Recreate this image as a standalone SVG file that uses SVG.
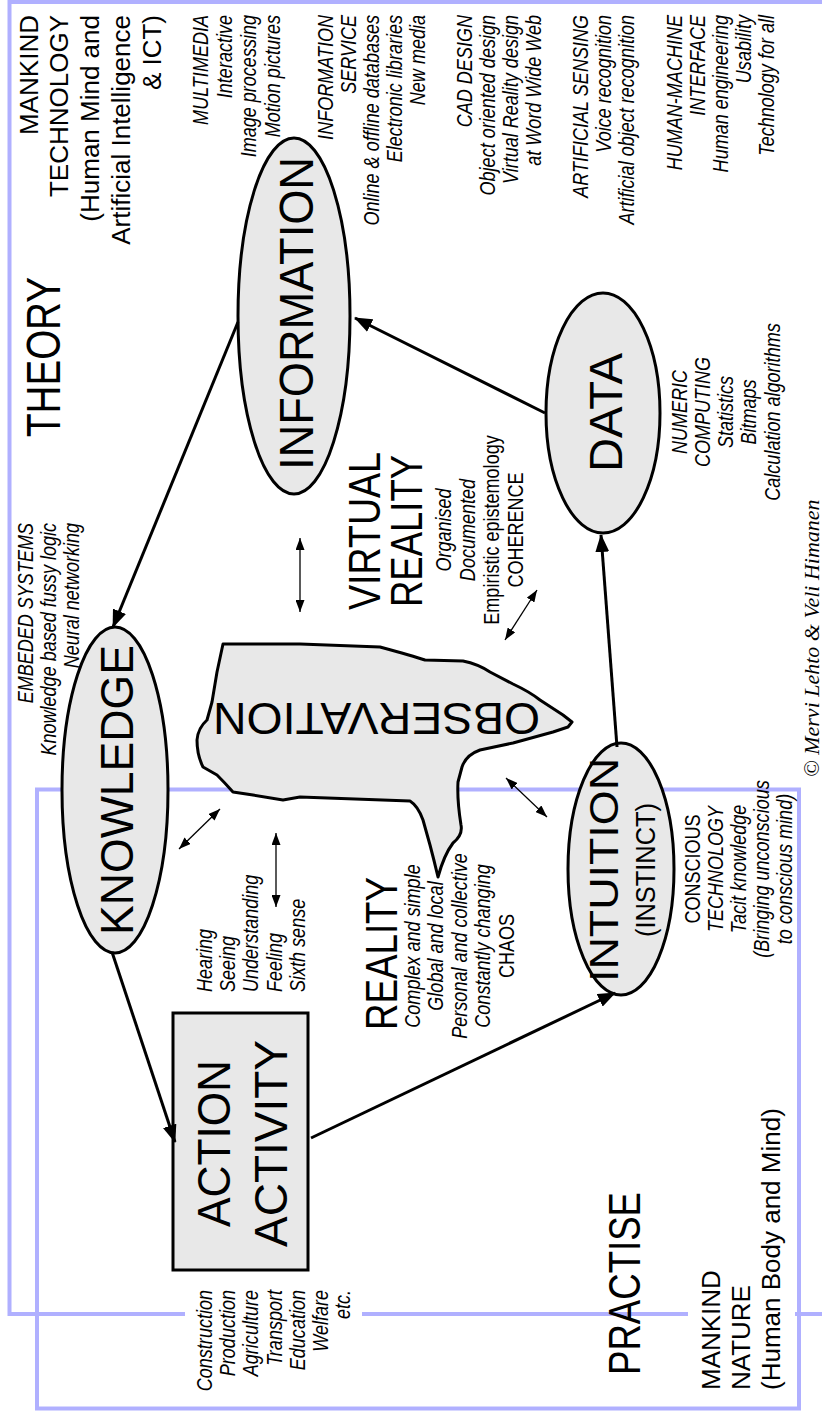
<svg xmlns="http://www.w3.org/2000/svg" width="822" height="1416" viewBox="0 0 822 1416">
<defs>
<style>
text{font-family:"Liberation Sans",Arial,Helvetica,sans-serif;fill:#000}
.it{font-style:italic}
.sm{font-size:22px}
.reg{font-size:26px}
.node{fill:#e8e8e8;stroke:#000;stroke-width:3}
.frame{fill:none;stroke:#b0b0ff;stroke-width:4}
.conn{stroke:#000;stroke-width:3;fill:none;marker-end:url(#ah)}
.dbl{stroke:#000;stroke-width:1.3;fill:none;marker-start:url(#sh);marker-end:url(#sh)}
.copy{font-family:"Liberation Serif","Times New Roman",serif;font-style:italic;font-size:22px}
</style>
<marker id="ah" markerWidth="18" markerHeight="14" refX="17" refY="7" orient="auto" markerUnits="userSpaceOnUse"><path d="M0,0 L18,7 L0,14 z" fill="#000"/></marker>
<marker id="sh" markerWidth="12" markerHeight="9" refX="12" refY="4.5" orient="auto-start-reverse" markerUnits="userSpaceOnUse"><path d="M0,0 L12,4.5 L0,9 z" fill="#000"/></marker>
</defs>
<rect width="822" height="1416" fill="#fff"/>

<g id="frames">
<path class="frame" d="M185,1314 H9.5 V2 H830 M362,1314 H688 M795,1314 H830"/>
<rect class="frame" x="37" y="789.5" width="762" height="619"/>
</g>

<g id="observation">
<path class="node" stroke-linejoin="round" d="M223,644 L300,644 L380,647 Q413,656 425,660 L463,661 Q478,664 490,672 L513,684 Q530,692 540,700 L563,715 L572,722 L568,727 L553,732 L513,743 L480,750 Q466,755 462,767 L458,782 Q457,800 461,825 Q463,835 453,843 Q444,855 438,877 Q434,860 430,845 L423,820 Q418,806 410,801 L300,797 L283,800 L253,795 L233,792 Q225,783 217,775 L203,767 Q197,755 197,740 Q198,728 207,720 L212,702 L217,672 Z"/>
<text font-size="45" textLength="327" lengthAdjust="spacingAndGlyphs" transform="translate(540,703) rotate(180)">OBSERVATION</text>
</g>

<g id="knowledge">
<ellipse class="node" cx="115" cy="790" rx="53" ry="163"/>
<text font-size="46" textLength="290" lengthAdjust="spacingAndGlyphs" transform="translate(133,935) rotate(-90)">KNOWLEDGE</text>
</g>

<g id="information">
<ellipse class="node" cx="294" cy="316" rx="56" ry="178"/>
<text font-size="49" textLength="313" lengthAdjust="spacingAndGlyphs" transform="translate(313,470) rotate(-90)">INFORMATION</text>
</g>

<g id="data">
<ellipse class="node" cx="603" cy="413" rx="57" ry="120"/>
<text font-size="47" textLength="119" lengthAdjust="spacingAndGlyphs" transform="translate(622,472) rotate(-90)">DATA</text>
</g>

<g id="intuition">
<ellipse class="node" cx="621" cy="869" rx="53" ry="126"/>
<text font-size="40" textLength="224" lengthAdjust="spacingAndGlyphs" transform="translate(618,982) rotate(-90)">INTUITION</text>
<text font-size="27" textLength="134" lengthAdjust="spacingAndGlyphs" transform="translate(655,937) rotate(-90)">(INSTINCT)</text>
</g>

<g id="action">
<rect class="node" x="173" y="1013" width="135" height="257"/>
<text font-size="46" textLength="167" lengthAdjust="spacingAndGlyphs" transform="translate(230,1227) rotate(-90)">ACTION</text>
<text font-size="46" textLength="207" lengthAdjust="spacingAndGlyphs" transform="translate(287,1247) rotate(-90)">ACTIVITY</text>
</g>

<g id="connectors">
<path class="conn" d="M238,322 L113,627"/>
<path class="conn" d="M112,952 L175,1142"/>
<path class="conn" d="M311,1138 L615,993"/>
<path class="conn" d="M617,747 L601,535"/>
<path class="conn" d="M545,413 L355,318"/>
<path class="dbl" d="M300,538 L300,612"/>
<path class="dbl" d="M537,590 L505,640"/>
<path class="dbl" d="M220,809 L179,849"/>
<path class="dbl" d="M276,833 L276,907"/>
<path class="dbl" d="M506,778 L547,817"/>
</g>

<g id="labels">
<text font-size="48" textLength="160" lengthAdjust="spacingAndGlyphs" transform="translate(60,437) rotate(-90)">THEORY</text>
<text font-size="45" textLength="183" lengthAdjust="spacingAndGlyphs" transform="translate(640,1375) rotate(-90)">PRACTISE</text>
<text font-size="44" textLength="158" lengthAdjust="spacingAndGlyphs" transform="translate(380,610) rotate(-90)">VIRTUAL</text>
<text font-size="44" textLength="152" lengthAdjust="spacingAndGlyphs" transform="translate(422,607) rotate(-90)">REALITY</text>
<text font-size="44" textLength="153" lengthAdjust="spacingAndGlyphs" transform="translate(397,1030) rotate(-90)">REALITY</text>

<text class="reg" text-anchor="end" transform="translate(38,15) rotate(-90)"><tspan x="0" y="0">MANKIND</tspan><tspan x="0" y="30">TECHNOLOGY</tspan><tspan x="0" y="61">(Human Mind and</tspan><tspan x="0" y="92">Artificial Intelligence</tspan><tspan x="0" y="123">&amp; ICT)</tspan></text>

<text class="reg" transform="translate(720,1390) rotate(-90)"><tspan x="0" y="0">MANKIND</tspan><tspan x="0" y="30">NATURE</tspan><tspan x="0" y="60">(Human Body and Mind)</tspan></text>

<text class="sm it" text-anchor="end" transform="translate(208,15) rotate(-90) scale(0.82,1)"><tspan x="0" y="0">MULTIMEDIA</tspan><tspan x="0" y="24">Interactive</tspan><tspan x="0" y="48">Image processing</tspan><tspan x="0" y="72">Motion pictures</tspan></text>

<text class="sm it" text-anchor="end" transform="translate(333,15) rotate(-90) scale(0.82,1)"><tspan x="0" y="0">INFORMATION</tspan><tspan x="0" y="23">SERVICE</tspan><tspan x="0" y="46">Online &amp; offline databases</tspan><tspan x="0" y="69">Electronic libraries</tspan><tspan x="0" y="92">New media</tspan></text>

<text class="sm it" text-anchor="end" transform="translate(472,15) rotate(-90) scale(0.82,1)"><tspan x="0" y="0">CAD DESIGN</tspan><tspan x="0" y="23">Object oriented design</tspan><tspan x="0" y="46">Virtual Reality design</tspan><tspan x="0" y="69">at Word Wide Web</tspan></text>

<text class="sm it" text-anchor="end" transform="translate(588,15) rotate(-90) scale(0.82,1)"><tspan x="0" y="0">ARTIFICIAL SENSING</tspan><tspan x="0" y="23">Voice recognition</tspan><tspan x="0" y="46">Artificial object recognition</tspan></text>

<text class="sm it" text-anchor="end" transform="translate(682,15) rotate(-90) scale(0.82,1)"><tspan x="0" y="0">HUMAN-MACHINE</tspan><tspan x="0" y="23">INTERFACE</tspan><tspan x="0" y="46">Human engineering</tspan><tspan x="0" y="69">Usability</tspan><tspan x="0" y="92">Technology for all</tspan></text>

<text class="sm it" text-anchor="end" transform="translate(33,523) rotate(-90) scale(0.82,1)"><tspan x="0" y="0">EMBEDED SYSTEMS</tspan><tspan x="0" y="23">Knowledge based fussy logic</tspan><tspan x="0" y="46">Neural networking</tspan></text>

<text class="sm" text-anchor="middle" transform="translate(451,530) rotate(-90) scale(0.82,1)"><tspan class="it" x="0" y="0">Organised</tspan><tspan class="it" x="0" y="24">Documented</tspan><tspan x="0" y="48">Empiristic epistemology</tspan><tspan x="0" y="72">COHERENCE</tspan></text>

<text class="sm" text-anchor="middle" transform="translate(420,946) rotate(-90) scale(0.82,1)"><tspan class="it" x="0" y="0">Complex and simple</tspan><tspan class="it" x="0" y="23.5">Global and local</tspan><tspan class="it" x="0" y="47">Personal and collective</tspan><tspan class="it" x="0" y="70.5">Constantly changing</tspan><tspan x="0" y="94">CHAOS</tspan></text>

<text class="sm it" transform="translate(212,992) rotate(-90) scale(0.82,1)"><tspan x="0" y="0">Hearing</tspan><tspan x="0" y="23">Seeing</tspan><tspan x="0" y="46">Understanding</tspan><tspan x="0" y="70">Feeling</tspan><tspan x="0" y="93">Sixth sense</tspan></text>

<text class="sm it" text-anchor="end" transform="translate(212,1290) rotate(-90) scale(0.82,1)"><tspan x="0" y="0">Construction</tspan><tspan x="0" y="23">Production</tspan><tspan x="0" y="46">Agriculture</tspan><tspan x="0" y="70">Transport</tspan><tspan x="0" y="93">Education</tspan><tspan x="0" y="116">Welfare</tspan><tspan x="0" y="138">etc.</tspan></text>

<text class="sm" text-anchor="middle" transform="translate(700,869) rotate(-90) scale(0.82,1)"><tspan x="0" y="0">CONSCIOUS</tspan><tspan class="it" x="0" y="23">TECHNOLOGY</tspan><tspan class="it" x="0" y="46">Tacit knowledge</tspan><tspan class="it" x="0" y="69">(Bringing unconscious</tspan><tspan class="it" x="0" y="92">to conscious mind)</tspan></text>

<text class="sm it" text-anchor="middle" transform="translate(687,412) rotate(-90) scale(0.82,1)"><tspan x="0" y="0">NUMERIC</tspan><tspan x="0" y="23">COMPUTING</tspan><tspan x="0" y="46">Statistics</tspan><tspan x="0" y="69">Bitmaps</tspan><tspan x="0" y="93">Calculation algorithms</tspan></text>

<text class="copy" transform="translate(819,777) rotate(-90)">© Mervi Lehto &amp; Veli Himanen</text>
</g>
</svg>
